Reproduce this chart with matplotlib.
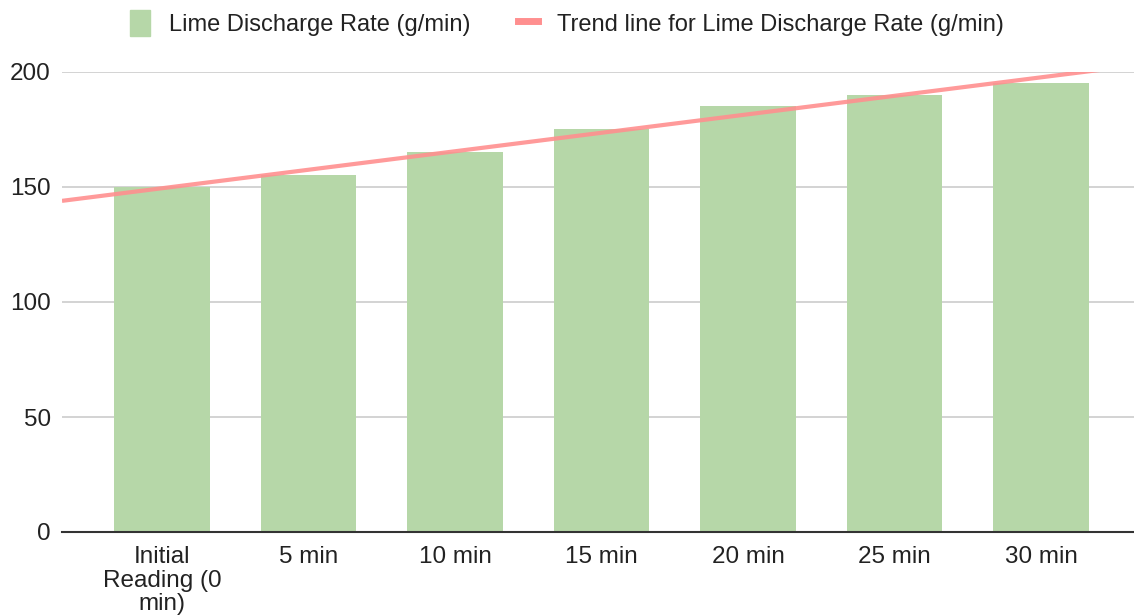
import numpy as np
import matplotlib.pyplot as plt
from matplotlib.lines import Line2D
from matplotlib.patches import Patch

plt.rcParams['font.family'] = ['Liberation Sans', 'DejaVu Sans']

# data
categories = ['Initial\nReading (0\nmin)', '5 min', '10 min', '15 min', '20 min', '25 min', '30 min']
discharge = [150, 155, 165, 175, 185, 190, 195]
series_name = 'Lime Discharge Rate (g/min)'

bar_color = '#b6d7a8'
trend_color = '#ff8f8f'

fig = plt.figure(figsize=(11.34, 6.16), dpi=100)
ax = fig.add_axes([62 / 1134, 84 / 616, 1072 / 1134, 460 / 616])

x = np.arange(len(categories))
ax.bar(x, discharge, width=0.65, color=bar_color, zorder=2)

# linear trend line
slope, intercept = np.polyfit(x, discharge, 1)
xl = (-0.683, 6.635)
xt = np.array(xl)
ax.plot(xt, slope * xt + intercept, color=trend_color, lw=3, alpha=0.9, zorder=3,
        solid_capstyle='butt')

ax.set_xlim(*xl)
ax.set_ylim(0, 200)
ax.set_yticks([0, 50, 100, 150, 200])
ax.yaxis.grid(True, color='#cccccc', lw=1.2, zorder=0)
ax.set_axisbelow(True)
for s in ['top', 'right', 'left']:
    ax.spines[s].set_visible(False)
ax.spines['bottom'].set_color('#333333')
ax.spines['bottom'].set_linewidth(1.5)
ax.spines['bottom'].set_zorder(4)
ax.tick_params(length=0, labelsize=17.5, colors='#222222')
ax.tick_params(axis='y', pad=8)
ax.tick_params(axis='x', pad=10)
ax.set_xticks(x)
ax.set_xticklabels(categories, linespacing=1.1)

handles = [Patch(color=bar_color, label=series_name),
           Line2D([0], [0], color=trend_color, lw=5, label='Trend line for ' + series_name)]
fig.legend(handles=handles, loc='upper center', bbox_to_anchor=(0.5, 1.018), ncol=2,
           frameon=False, fontsize=17, handlelength=0.85, handleheight=1.3,
           columnspacing=2.0, handletextpad=0.8, labelcolor='#222222')

fig.savefig('out.png', dpi=100)
